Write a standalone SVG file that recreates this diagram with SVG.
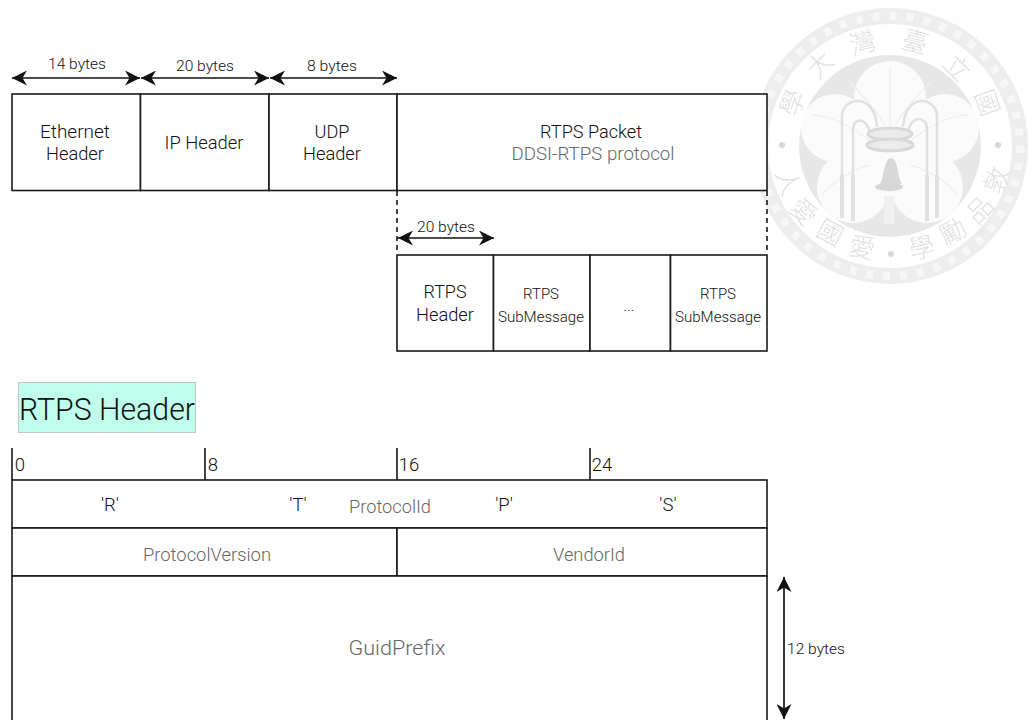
<svg xmlns="http://www.w3.org/2000/svg" width="1028" height="720" viewBox="0 0 1028 720">
<style>
text{font-family:Roboto,"Noto Sans",sans-serif;font-weight:300;text-anchor:middle;fill:#111}
.b{font-size:18.500px}
.s{font-size:15px}
.g{font-size:18.500px;fill:#666}
.c{fill:#fff;stroke:#1a1a1a;stroke-width:1.600}
.l{fill:none;stroke:#1a1a1a;stroke-width:1.600}
.d{fill:none;stroke:#1a1a1a;stroke-width:1.600;stroke-dasharray:5 4}
.a{fill:none;stroke:#111;stroke-width:1.700;marker-start:url(#h);marker-end:url(#h)}
.w{font-family:"Noto Sans CJK TC",sans-serif;font-size:26px;fill:#e0e0e0}
.wl{fill:none;stroke:#e0e0e0;stroke-width:2.500}
.wt{fill:none;stroke:#e0e0e0;stroke-width:4}
.wp{fill:none;stroke:#f0f0f0;stroke-width:1.500}
.lobe{fill:#fbfbfb}
</style>
<defs>
<marker id="h" markerUnits="userSpaceOnUse" markerWidth="15" markerHeight="15" refX="15" refY="7.500" orient="auto-start-reverse" viewBox="0 0 15 15"><path d="M0 0L15 7.500L0 15L4.500 7.500Z" fill="#111"/></marker>
<filter id="soft" x="-5%" y="-5%" width="110%" height="110%"><feGaussianBlur stdDeviation="0.600"/></filter>
</defs>
<g id="watermark" filter="url(#soft)">
<circle cx="890" cy="146" r="130" fill="none" stroke="#ededed" stroke-width="16"/>
<circle cx="890" cy="146" r="130" fill="none" stroke="#f7f7f7" stroke-width="8" stroke-dasharray="7 10"/>
<circle cx="890" cy="146" r="91" fill="#e7e7e7"/>
<circle class="lobe" cx="890" cy="97" r="36"/>
<circle class="lobe" cx="835" cy="128" r="34"/>
<circle class="lobe" cx="945" cy="128" r="34"/>
<circle class="lobe" cx="853" cy="187" r="36"/>
<circle class="lobe" cx="927" cy="187" r="36"/>
<path class="lobe" d="M850 110H930L945 170L890 203L835 170Z"/>
<path class="wp" d="M890 125V68M885 125C872 105 862 95 850 82M895 125C908 105 918 95 930 82M875 145C850 125 830 115 812 115M905 145C930 125 950 115 968 115M870 165C850 170 830 185 822 195M910 165C930 170 950 185 958 195"/>
<path class="wl" d="M842 175V117C842 96 875 92 877 127M853 175V130C853 116 868 118 870 133M937 175V117C937 96 905 92 903 127M927 175V130C927 114 910 116 908 132"/>
<path class="wt" d="M842 175V218M853 175V221M937 175V218M927 175V221"/>
<ellipse cx="890" cy="134" rx="22" ry="6" fill="#ececec" stroke="#d8d8d8" stroke-width="3"/>
<ellipse cx="890" cy="145" rx="23" ry="6" fill="#ececec" stroke="#d8d8d8" stroke-width="3"/>
<path d="M880 184C885 176 883 160 891 158C899 160 897 176 902 184Z" fill="#d8d8d8"/>
<ellipse cx="889" cy="187" rx="14" ry="4" fill="#d6d6d6"/>
<path d="M884 196H894V224H884Z" fill="#f0f0f0"/>
<circle cx="782" cy="145" r="3" fill="#d8d8d8"/><circle cx="998" cy="145" r="3" fill="#d8d8d8"/><circle cx="891" cy="254" r="3" fill="#d8d8d8"/>
<text class="w" transform="translate(793,103) rotate(-70)" y="9">學</text>
<text class="w" transform="translate(820,65) rotate(-45)" y="9">大</text>
<text class="w" transform="translate(863,43) rotate(-15)" y="9">灣</text>
<text class="w" transform="translate(915,42) rotate(15)" y="9">臺</text>
<text class="w" transform="translate(957,68) rotate(45)" y="9">立</text>
<text class="w" transform="translate(987,103) rotate(70)" y="9">國</text>
<text class="w" transform="translate(997,180) rotate(-70)" y="9">敦</text>
<text class="w" transform="translate(980,210) rotate(-45)" y="9">品</text>
<text class="w" transform="translate(953,232) rotate(-28)" y="9">勵</text>
<text class="w" transform="translate(922,248) rotate(-12)" y="9">學</text>
<text class="w" transform="translate(862,248) rotate(12)" y="9">愛</text>
<text class="w" transform="translate(830,233) rotate(28)" y="9">國</text>
<text class="w" transform="translate(803,212) rotate(45)" y="9">愛</text>
<text class="w" transform="translate(788,182) rotate(70)" y="9">人</text>
</g>
<g id="connectors">
<path class="a" d="M12 78H140"/><path class="a" d="M141 78H269"/><path class="a" d="M270 78H397"/>
<path class="a" d="M398 238H494"/>
<path class="a" d="M784 577V719"/>
<path class="d" d="M397 191V254M767 191V254"/>
<path class="l" d="M12 448V480M205 448V480M397 448V480M590 448V480"/>
</g>
<g id="eth"><rect class="c" x="12" y="94" width="128.500" height="96.500"/><text class="b" x="75" y="138" textLength="70" lengthAdjust="spacingAndGlyphs">Ethernet</text><text class="b" x="75" y="160" textLength="58" lengthAdjust="spacingAndGlyphs">Header</text></g>
<g id="ip"><rect class="c" x="140.500" y="94" width="128.500" height="96.500"/><text class="b" x="204" y="149" textLength="79" lengthAdjust="spacingAndGlyphs">IP Header</text></g>
<g id="udp"><rect class="c" x="269" y="94" width="128" height="96.500"/><text class="b" x="332" y="138" textLength="35" lengthAdjust="spacingAndGlyphs">UDP</text><text class="b" x="332" y="160" textLength="58" lengthAdjust="spacingAndGlyphs">Header</text></g>
<g id="rtps"><rect class="c" x="397" y="94" width="370" height="96.500"/><text class="b" x="591" y="138" textLength="102" lengthAdjust="spacingAndGlyphs">RTPS Packet</text><text class="g" x="593" y="160" textLength="163" lengthAdjust="spacingAndGlyphs">DDSI-RTPS protocol</text></g>
<g id="rh"><rect class="c" x="397" y="255" width="96.500" height="96"/><text class="b" x="445" y="298" textLength="43" lengthAdjust="spacingAndGlyphs">RTPS</text><text class="b" x="445" y="321" textLength="58" lengthAdjust="spacingAndGlyphs">Header</text></g>
<g id="sm1"><rect class="c" x="493.500" y="255" width="96.500" height="96"/><text class="s" x="541" y="299" textLength="36" lengthAdjust="spacingAndGlyphs">RTPS</text><text class="s" x="541" y="322" textLength="86" lengthAdjust="spacingAndGlyphs">SubMessage</text></g>
<g id="dots"><rect class="c" x="590" y="255" width="80.500" height="96"/><text class="s" x="629" y="311">...</text></g>
<g id="sm2"><rect class="c" x="670.500" y="255" width="96.500" height="96"/><text class="s" x="718" y="299" textLength="36" lengthAdjust="spacingAndGlyphs">RTPS</text><text class="s" x="718" y="322" textLength="86" lengthAdjust="spacingAndGlyphs">SubMessage</text></g>
<g id="title"><rect x="18.500" y="382.500" width="177" height="50" fill="#bfffec" stroke="#c4c4c4"/><text x="107" y="420" textLength="176" lengthAdjust="spacingAndGlyphs" style="font-size:32px;fill:#111">RTPS Header</text></g>
<g id="ticks"><text class="b" x="20" y="471">0</text><text class="b" x="213" y="471">8</text><text class="b" x="409" y="471">16</text><text class="b" x="602" y="471">24</text></g>
<g id="pid"><rect class="c" x="12" y="480" width="755" height="48"/><text class="b" x="110" y="511">'R'</text><text class="b" x="298" y="511">'T'</text><text class="g" x="390" y="513" textLength="82" lengthAdjust="spacingAndGlyphs">ProtocolId</text><text class="b" x="504" y="511">'P'</text><text class="b" x="668" y="511">'S'</text></g>
<g id="pv"><rect class="c" x="12" y="528" width="385" height="48"/><text class="g" x="207" y="561" textLength="128" lengthAdjust="spacingAndGlyphs">ProtocolVersion</text></g>
<g id="vid"><rect class="c" x="397" y="528" width="370" height="48"/><text class="g" x="589" y="561" textLength="72" lengthAdjust="spacingAndGlyphs">VendorId</text></g>
<g id="guid"><rect class="c" x="12" y="576" width="755" height="160"/><text class="g" x="397" y="655" textLength="97" lengthAdjust="spacingAndGlyphs" style="font-size:21px">GuidPrefix</text></g>
<g id="labels"><text class="s" x="77" y="69" textLength="58" lengthAdjust="spacingAndGlyphs">14 bytes</text><text class="s" x="205" y="71" textLength="58" lengthAdjust="spacingAndGlyphs">20 bytes</text><text class="s" x="332" y="71" textLength="50" lengthAdjust="spacingAndGlyphs">8 bytes</text><text class="s" x="446" y="232" textLength="58" lengthAdjust="spacingAndGlyphs">20 bytes</text><text class="s" x="816" y="654" textLength="58" lengthAdjust="spacingAndGlyphs">12 bytes</text></g>
</svg>
